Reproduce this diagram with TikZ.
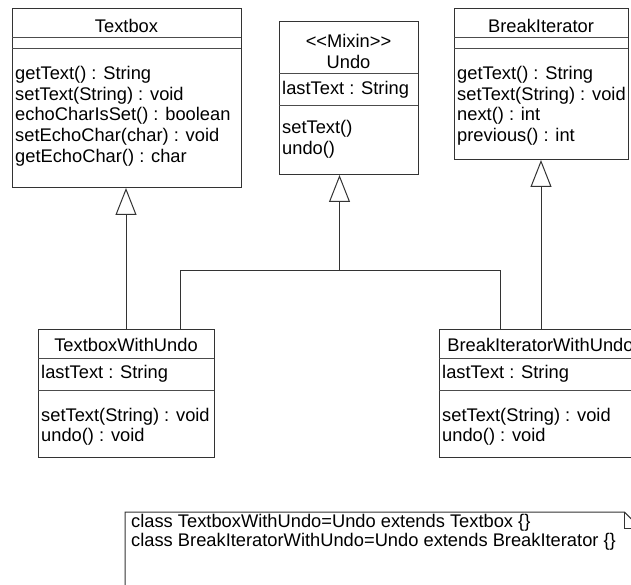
\documentclass[tikz,border=0pt]{standalone}
\usepackage{fontspec}
\setmainfont{Liberation Sans}
\usetikzlibrary{arrows.meta,calc}
\tikzset{
  box/.style={draw=black!80, line width=1pt, anchor=north west, inner sep=0pt, outer sep=0pt},
  sepline/.style={draw=black!70, line width=1pt},
  conn/.style={draw=black!80, line width=1pt},
  inh/.style={draw=black!80, line width=1pt, -{Triangle[open, length=27pt, width=21pt, fill=white]}},
  txt/.style={anchor=base west, inner sep=0pt, font=\fontsize{18.3}{20.7}\selectfont},
  ttl/.style={anchor=base, inner sep=0pt, font=\fontsize{18.3}{20.7}\selectfont},
}
\begin{document}
\begin{tikzpicture}[x=1pt, y=-1pt]
\useasboundingbox (0,0) rectangle (631,585);
\clip (0,0) rectangle (631,585);
% ---- Textbox
\node[box, minimum width=229pt, minimum height=179pt] (textbox) at (12,9) {};
\draw[sepline] ($(textbox.north west)+(0,29)$) -- ($(textbox.north east)+(0,29)$);
\draw[sepline] ($(textbox.north west)+(0,40)$) -- ($(textbox.north east)+(0,40)$);
\node[ttl] (tbt) at (126.5,32.5) {Textbox};
\node[txt] (tbm1) at (15,79.5) {getText() : String};
\node[txt] (tbm2) at (15,100.2) {setText(String) : void};
\node[txt] (tbm3) at (15,120.9) {echoCharIsSet() : boolean};
\node[txt] (tbm4) at (15,141.6) {setEchoChar(char) : void};
\node[txt] (tbm5) at (15,162.3) {getEchoChar() : char};
% ---- Undo
\node[box, minimum width=139pt, minimum height=153pt] (undo) at (279,22) {};
\draw[sepline] ($(undo.north west)+(0,52)$) -- ($(undo.north east)+(0,52)$);
\draw[sepline] ($(undo.north west)+(0,84)$) -- ($(undo.north east)+(0,84)$);
\node[ttl] (ust) at (348.5,48) {<{}<Mixin>{}>};
\node[ttl] (unt) at (348.5,68.5) {Undo};
\node[txt] (ua1) at (282,94.5) {lastText : String};
\node[txt] (um1) at (282,133.5) {setText()};
\node[txt] (um2) at (282,154.2) {undo()};
% ---- BreakIterator
\node[box, minimum width=174pt, minimum height=151pt] (bi) at (454,9) {};
\draw[sepline] ($(bi.north west)+(0,29)$) -- ($(bi.north east)+(0,29)$);
\draw[sepline] ($(bi.north west)+(0,40)$) -- ($(bi.north east)+(0,40)$);
\node[ttl] (bit) at (541,32.5) {BreakIterator};
\node[txt] (bim1) at (457,79.5) {getText() : String};
\node[txt] (bim2) at (457,100.2) {setText(String) : void};
\node[txt] (bim3) at (457,120.9) {next() : int};
\node[txt] (bim4) at (457,141.6) {previous() : int};
% ---- TextboxWithUndo
\node[box, minimum width=176pt, minimum height=128pt] (twu) at (38,329) {};
\draw[sepline] ($(twu.north west)+(0,29)$) -- ($(twu.north east)+(0,29)$);
\draw[sepline] ($(twu.north west)+(0,61)$) -- ($(twu.north east)+(0,61)$);
\node[ttl] (twut) at (126,351) {TextboxWithUndo};
\node[txt] (twua) at (41,378) {lastText : String};
\node[txt] (twum1) at (41,421) {setText(String) : void};
\node[txt] (twum2) at (41,441.7) {undo() : void};
% ---- BreakIteratorWithUndo
\node[box, minimum width=203pt, minimum height=128pt] (biwu) at (439,329) {};
\draw[sepline] ($(biwu.north west)+(0,29)$) -- ($(biwu.north east)+(0,29)$);
\draw[sepline] ($(biwu.north west)+(0,61)$) -- ($(biwu.north east)+(0,61)$);
\node[ttl] (biwut) at (540.5,351) {BreakIteratorWithUndo};
\node[txt] (biwua) at (442,378) {lastText : String};
\node[txt] (biwum1) at (442,421) {setText(String) : void};
\node[txt] (biwum2) at (442,441.7) {undo() : void};
% ---- connectors
\coordinate (lx) at (180,0);
\coordinate (rx) at (500,0);
\coordinate (jn) at (339.5,270);
\draw[inh] (twu.north) -- (twu.north |- textbox.south);
\draw[conn] (twu.north -| lx) |- (jn);
\draw[conn] (biwu.north -| rx) |- (jn);
\draw[inh] (jn) -- (undo.south -| jn);
\draw[inh] (biwu.north -| bi.south) -- (bi.south);
% ---- note
\node[anchor=north west, inner sep=0pt, minimum width=515pt, minimum height=100pt] (note) at (125,512) {};
\draw[conn] (note.south west) -- (note.north west) -- ([xshift=-16pt]note.north east) -- ([yshift=-16pt]note.north east) -- (note.south east);
\draw[conn] ([xshift=-16pt]note.north east) -- ++(0,16) -- ++(16,0);
\node[txt] (n1) at (131,527) {class TextboxWithUndo=Undo extends Textbox \{\}};
\node[txt] (n2) at (131,546.5) {class BreakIteratorWithUndo=Undo extends BreakIterator \{\}};
\end{tikzpicture}
\end{document}
